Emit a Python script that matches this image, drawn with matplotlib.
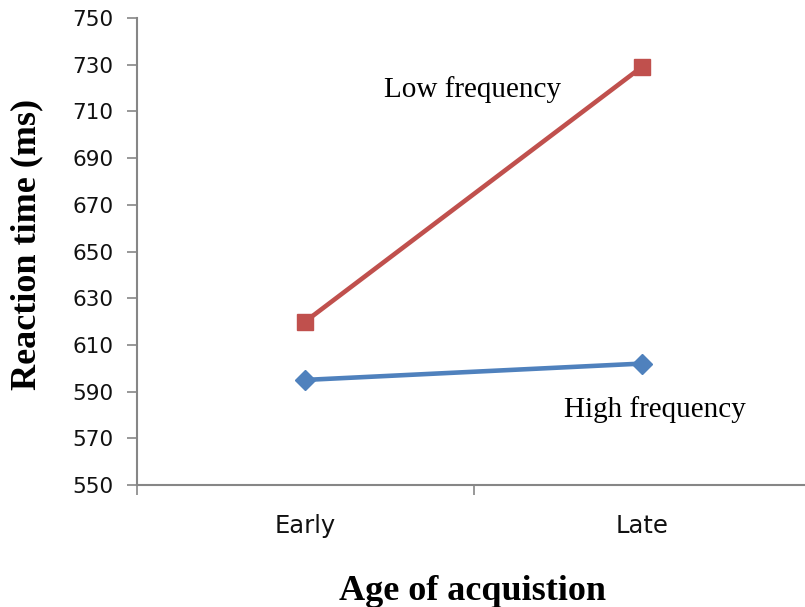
import matplotlib
matplotlib.use("Agg")
import matplotlib.pyplot as plt

groups = ["Early", "Late"]
low_freq = [620, 729]
high_freq = [595, 602]
y_ticks = list(range(550, 751, 20))

fig = plt.figure(figsize=(8.05, 6.07), dpi=100)
W, H = 805, 607
# axes box in pixels: left 137, right 810, top 18, bottom 485
ax = fig.add_axes([137 / W, 1 - 485 / H, (810 - 137) / W, (485 - 18) / H])

x = list(range(len(groups)))
ax.plot(x, low_freq, color="#C0504D", lw=3.3, marker="s", markersize=11.5,
        solid_capstyle="round")
ax.plot(x, high_freq, color="#4F81BD", lw=3.3, marker="D", markersize=10,
        solid_capstyle="round")

ax.set_xlim(-0.5, 1.5)
ax.set_ylim(550, 750)
ax.set_yticks(y_ticks)
ax.set_xticks(x)
ax.set_xticklabels(groups)
ax.set_xticks([-0.5, 0.5, 1.5], minor=True)

for lab in ax.get_yticklabels():
    lab.set_fontfamily("DejaVu Sans")
    lab.set_fontsize(15.5)
    lab.set_color("#111111")
for lab in ax.get_xticklabels():
    lab.set_fontfamily("DejaVu Sans")
    lab.set_fontsize(17.5)
    lab.set_color("#111111")

ax.tick_params(axis="y", direction="out", length=7, width=1.2, color="#868686", pad=10)
ax.tick_params(axis="x", which="major", length=0, pad=21)
ax.tick_params(axis="x", which="minor", direction="out", length=7, width=1.2, color="#868686")

for side in ["top", "right"]:
    ax.spines[side].set_visible(False)
for side in ["left", "bottom"]:
    ax.spines[side].set_color("#868686")
    ax.spines[side].set_linewidth(1.5)

serif = "Liberation Serif"
ax.text(0.233, 716.2, "Low frequency", family=serif, fontsize=21, va="baseline", ha="left")
ax.text(0.770, 579.1, "High frequency", family=serif, fontsize=21, va="baseline", ha="left")

fig.text(27 / W, 1 - 244 / H, "Reaction time (ms)", family=serif, fontsize=26,
         fontweight="bold", rotation=90, ha="center", va="center")
fig.text(472 / W, 1 - 600 / H, "Age of acquistion", family=serif, fontsize=26,
         fontweight="bold", ha="center", va="baseline")

fig.savefig("out.png", dpi=100)
